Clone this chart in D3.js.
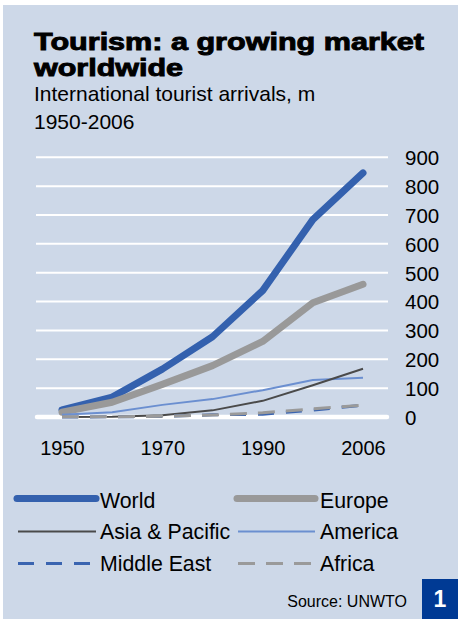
<!DOCTYPE html>
<html><head><meta charset="utf-8">
<script src="https://cdn.jsdelivr.net/npm/d3@7"></script>
<style>
html,body{margin:0;padding:0;background:#fff;}
svg{display:block;font-family:"Liberation Sans",Arial,Helvetica,sans-serif;}
</style></head>
<body>
<svg id="c" width="458" height="619"></svg>
<script>
const years = ["1950","1960","1970","1980","1990","2000","2006"];
const xTickLabels = ["1950","1970","1990","2006"];
const yTicks = [0,100,200,300,400,500,600,700,800,900];
const world = [25, 69, 166, 278, 438, 684, 846];
const europe = [17, 51, 113, 178, 262, 396, 460];
const asiaPacific = [0.2, 0.9, 6, 23, 56, 110, 167];
const america = [7.5, 16.7, 42, 62, 93, 128, 136];
const middleEast = [0.2, 0.6, 1.9, 7.5, 9.6, 24, 41];
const africa = [0.5, 0.8, 2.4, 7.2, 15, 28, 41];
const seriesNames = ["World","Europe","Asia & Pacific","America","Middle East","Africa"];

const styles = {
  "World": {color:"#3461ae", w:7, dash:null},
  "Europe": {color:"#999999", w:7, dash:null},
  "Asia & Pacific": {color:"#4a4a4a", w:2, dash:null},
  "America": {color:"#6b8fd0", w:2, dash:null},
  "Middle East": {color:"#3a64b0", w:3, dash:"16,12"},
  "Africa": {color:"#9a9a9a", w:3, dash:"17,11"}
};
const seriesData = {
  "World": world, "Europe": europe, "Asia & Pacific": asiaPacific,
  "America": america, "Middle East": middleEast, "Africa": africa
};

const svg = d3.select("#c");
svg.append("rect").attr("x",3).attr("y",5).attr("width",455).attr("height",614).attr("fill","#cdd8e8");

// Title
const title = svg.append("g").attr("fill","#000");
title.append("text").attr("x",34).attr("y",50).attr("font-size",23).attr("font-weight","bold")
  .attr("stroke","#000").attr("stroke-width",0.9)
  .attr("textLength",390).attr("lengthAdjust","spacingAndGlyphs")
  .text("Tourism: a growing market");
title.append("text").attr("x",34).attr("y",76).attr("font-size",23).attr("font-weight","bold")
  .attr("stroke","#000").attr("stroke-width",0.9)
  .attr("textLength",149).attr("lengthAdjust","spacingAndGlyphs")
  .text("worldwide");
svg.append("text").attr("x",34).attr("y",100.5).attr("font-size",21).text("International tourist arrivals, m");
svg.append("text").attr("x",34).attr("y",129).attr("font-size",21).text("1950-2006");

const x = d3.scalePoint().domain(years).range([62,363]);
const y = d3.scaleLinear().domain([0,900]).range([417,157.3]);

// gridlines
svg.append("g").selectAll("line").data(yTicks.filter(d=>d>0)).join("line")
  .attr("x1",36).attr("x2",388).attr("y1",d=>y(d)).attr("y2",d=>y(d))
  .attr("stroke","#fff").attr("stroke-width",2);
svg.append("line").attr("x1",37).attr("x2",387).attr("y1",y(0)).attr("y2",y(0))
  .attr("stroke","#fff").attr("stroke-width",4.5).attr("stroke-linecap","round");

// y axis on the right
const yAxis = d3.axisRight(y).tickValues(yTicks).tickSize(0).tickPadding(0).tickFormat(d3.format("d"));
const ya = svg.append("g").attr("transform","translate(405,0)").call(yAxis);
ya.select(".domain").remove();
ya.selectAll("text").attr("font-size",20.5).attr("fill","#000").attr("font-family","Liberation Sans, Arial, sans-serif").attr("dy","0.36em");

// x axis
const xAxis = d3.axisBottom(x).tickValues(xTickLabels).tickSize(0).tickPadding(0);
const xa = svg.append("g").attr("transform","translate(0,455)").call(xAxis);
xa.select(".domain").remove();
xa.selectAll("text").attr("font-size",20).attr("fill","#000").attr("font-family","Liberation Sans, Arial, sans-serif").attr("dy",0);

// lines
const line = d3.line().x((d,i)=>x(years[i])).y(d=>y(d));
const drawOrder = ["World","Europe","America","Asia & Pacific","Middle East","Africa"];
svg.append("g").selectAll("path").data(drawOrder).join("path")
  .attr("d",n=>line(seriesData[n]))
  .attr("fill","none")
  .attr("stroke",n=>styles[n].color)
  .attr("stroke-width",n=>styles[n].w)
  .attr("stroke-dasharray",n=>styles[n].dash)
  .attr("stroke-linecap",n=>styles[n].w>5?"round":"butt")
  .attr("stroke-linejoin","round");

// legend
const legX = [[17,96,100],[237,315,320]];
const legY = [498.5,531.5,563.5];
const legTextY = [508,538.5,570.5];
const leg = svg.append("g").selectAll("g").data(seriesNames).join("g");
leg.append("line")
  .attr("x1",(d,i)=>legX[i%2][0]+(styles[d].w>5?0:1)).attr("x2",(d,i)=>legX[i%2][1])
  .attr("y1",(d,i)=>legY[Math.floor(i/2)]).attr("y2",(d,i)=>legY[Math.floor(i/2)])
  .attr("stroke",d=>styles[d].color).attr("stroke-width",d=>styles[d].w)
  .attr("stroke-dasharray",d=>styles[d].dash)
  .attr("stroke-linecap",d=>styles[d].w>5?"round":"butt");
leg.append("text")
  .attr("x",(d,i)=>legX[i%2][2]).attr("y",(d,i)=>legTextY[Math.floor(i/2)])
  .attr("font-size",21.3).attr("fill","#000").text(d=>d);

// source
svg.append("text").attr("x",407).attr("y",607).attr("text-anchor","end").attr("font-size",16).text("Source: UNWTO");
svg.append("rect").attr("x",422).attr("y",579).attr("width",36).attr("height",40).attr("fill","#003a94");
svg.append("text").attr("x",440).attr("y",607).attr("text-anchor","middle").attr("font-size",23).attr("font-weight","bold").attr("fill","#fff").text("1");
</script>
</body></html>
